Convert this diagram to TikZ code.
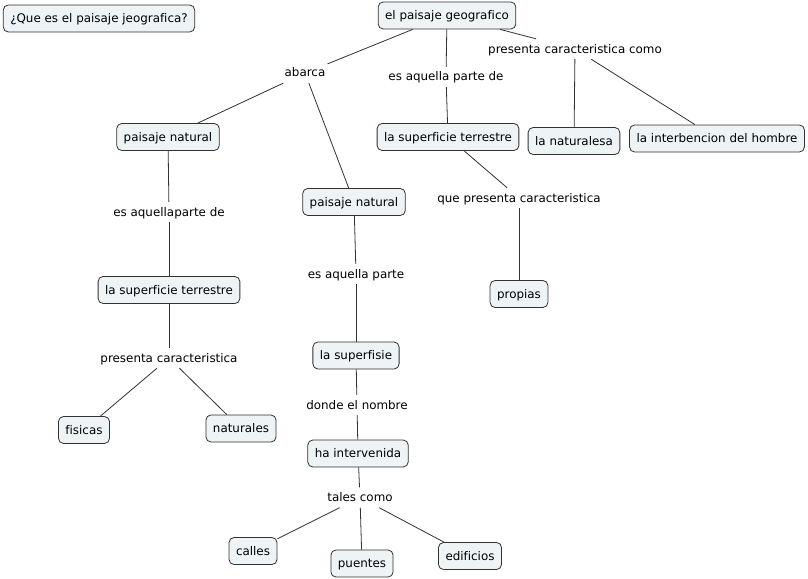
\documentclass[tikz,border=0pt]{standalone}
\usepackage{fontspec}
\setmainfont{DejaVu Sans}[Ligatures=NoCommon]
\definecolor{cfill}{RGB}{238,243,245}
\definecolor{cline}{RGB}{50,50,50}
\begin{document}
\begin{tikzpicture}[x=1pt,y=-1pt,
  concept/.style={draw=cline,fill=cfill,rounded corners=5pt,line width=0.8pt,
    inner xsep=7pt,inner ysep=0pt,minimum height=27pt,
    font=\fontsize{11.9}{13}\selectfont,text height=10pt,text depth=2pt},
  link/.style={inner xsep=2pt,inner ysep=4pt,font=\fontsize{11.9}{13}\selectfont,
    text height=10pt,text depth=2pt},
  conn/.style={draw=cline,line width=0.8pt}]
\useasboundingbox (0,0) rectangle (808,578);
\fill[white] (0,0) rectangle (808,578);
% concepts
\node[concept] (q) at (99,18.5) {¿Que es el paisaje jeografica?};
\node[concept] (pg) at (447,15.5) {el paisaje geografico};
\node[concept] (pn1) at (168,137) {paisaje natural};
\node[concept] (st1) at (448,137) {la superficie terrestre};
\node[concept] (nat) at (574,141) {la naturalesa};
\node[concept] (inter) at (717,138.5) {la interbencion del hombre};
\node[concept] (pn2) at (354,202) {paisaje natural};
\node[concept] (st2) at (169,290) {la superficie terrestre};
\node[concept] (prop) at (519,294) {propias};
\node[concept] (sup) at (356,355.5) {la superfisie};
\node[concept] (ha) at (358,453.5) {ha intervenida};
\node[concept] (cal) at (253,551) {calles};
\node[concept] (pue) at (362,563.5) {puentes};
\node[concept] (edi) at (470,556) {edificios};
\node[concept] (fis) at (84,430) {fisicas};
\node[concept] (natu) at (241,428.5) {naturales};
% linking phrases
\node[link] (l1) at (305,73) {abarca};
\node[link] (l2) at (446,77) {es aquella parte de};
\node[link] (l3) at (575,49) {presenta caracteristica como};
\node[link] (l4) at (169,212) {es aquellaparte de};
\node[link] (l5) at (169,358) {presenta caracteristica};
\node[link] (l6) at (356,274) {es aquella parte};
\node[link] (l7) at (357,405) {donde el nombre};
\node[link] (l8) at (360,497.5) {tales como};
\node[link] (l9) at (519,198) {que presenta caracteristica};
% connectors
\draw[conn] (pg) -- (l1);
\draw[conn] (l1) -- (pn1);
\draw[conn] (l1) -- (pn2);
\draw[conn] (pg) -- (l2);
\draw[conn] (l2) -- (st1);
\draw[conn] (pg) -- (l3);
\draw[conn] (l3) -- (nat);
\draw[conn] (l3) -- (inter);
\draw[conn] (st1) -- (l9);
\draw[conn] (l9) -- (prop);
\draw[conn] (pn1) -- (l4);
\draw[conn] (l4) -- (st2);
\draw[conn] (st2) -- (l5);
\draw[conn] (l5) -- (fis);
\draw[conn] (l5) -- (natu);
\draw[conn] (pn2) -- (l6);
\draw[conn] (l6) -- (sup);
\draw[conn] (sup) -- (l7);
\draw[conn] (l7) -- (ha);
\draw[conn] (ha) -- (l8);
\draw[conn] (l8) -- (cal);
\draw[conn] (l8) -- (pue);
\draw[conn] (l8) -- (edi);
\end{tikzpicture}
\end{document}
